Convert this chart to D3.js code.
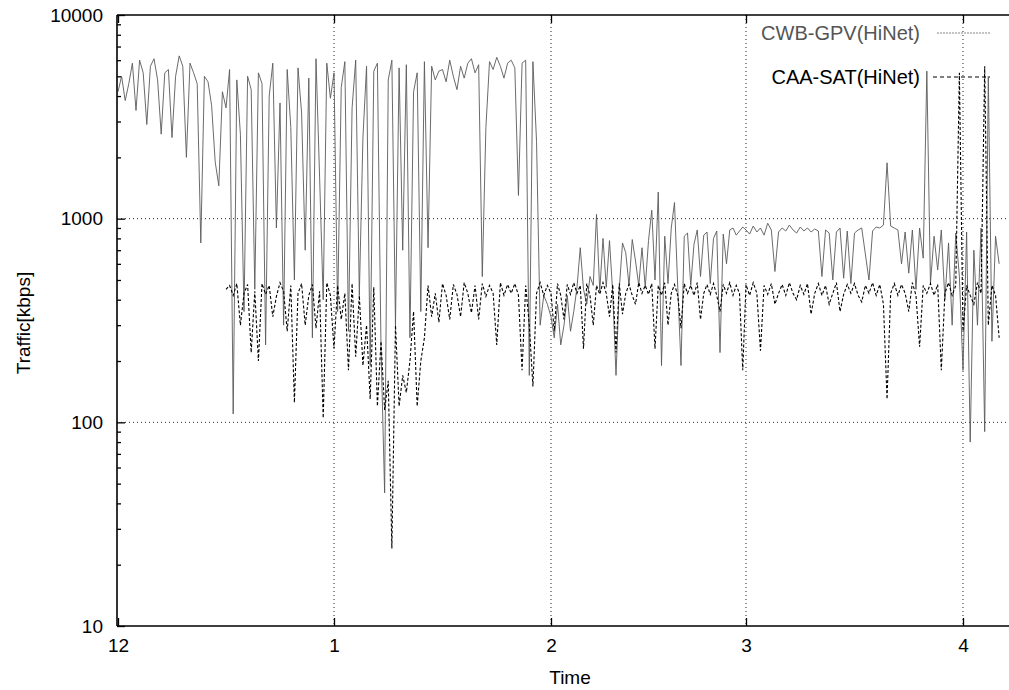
<!DOCTYPE html>
<html><head><meta charset="utf-8">
<script src="https://cdn.jsdelivr.net/npm/d3@7"></script>
<style>body{margin:0;background:#fff}svg{display:block}text{font-family:"Liberation Sans",Arial,sans-serif}</style>
</head><body><svg id="chart" width="1009" height="690"></svg>
<script>
// ---- data ----
const xTickMinutes = [0, 60, 120, 180, 240];
const xTickLabels = ["12", "1", "2", "3", "4"];
const yTickValues = [10, 100, 1000, 10000];
const seriesNames = ["CWB-GPV(HiNet)", "CAA-SAT(HiNet)"];

// one sample per minute after 12:00
const cwbStartMinute = 0;
const cwbValues = [
  4200, 5000, 3800, 4600, 5800, 3400, 6000, 5200, 2900, 5600,
  6100, 4800, 2600, 5200, 5400, 2500, 5000, 6300, 5600, 2000,
  5800, 5200, 4600, 760, 5000, 4700, 3600, 1900, 1450, 4200,
  3500, 5400, 110, 4800, 2600, 350, 5000, 4300, 450, 5200,
  4600, 240, 4000, 5800, 900, 3700, 300, 5400, 2800, 500,
  5500, 3300, 700, 4900, 260, 6100, 1600, 400, 5800, 3900,
  5200, 350, 4400, 5900, 280, 3500, 6000, 420, 2500, 5600,
  190, 5300, 5800, 230, 45, 4800, 6000, 300, 5500, 700,
  5700, 260, 4200, 5200, 350, 5900, 720, 5600, 4800, 5300,
  5400, 4700, 6000, 5000, 4300, 5600, 4900, 5800, 6100, 5200,
  5700, 520, 2800, 5900, 5400, 6200, 5600, 4900, 5800, 6000,
  5500, 1300, 5800, 6000, 170, 5900, 2400, 300, 420, 380,
  330, 260, 380, 240, 300, 420, 280, 350, 460, 720,
  450, 380, 520, 470, 1050, 440, 800, 460, 780, 430,
  170, 450, 760, 680, 470, 790, 620, 470, 720, 460,
  780, 1100, 500, 1350, 190, 820, 480, 900, 1200, 460,
  190, 820, 850, 470, 750, 880, 520, 830, 860, 480,
  800, 870, 220, 840, 600, 880, 900, 830, 870, 910,
  880, 840, 920, 860, 900, 830, 950, 880, 550, 860,
  900, 870, 930, 880, 850, 910, 870, 900, 860, 890,
  870, 520, 880, 850, 500, 860, 900, 510, 870, 480,
  850, 880, 900, 670, 500, 870, 910, 900, 930, 1880,
  920, 900, 880, 600, 860, 540, 880, 450, 900, 640,
  5300, 480, 820, 560, 880, 400, 760, 300, 850, 520,
  180, 860, 80, 700, 300, 900, 90, 5000, 250, 820, 600
];

const caaStartMinute = 30;
const caaValues = [
  450, 470, 420, 480, 300, 430, 475, 220, 440, 200,
  480, 425, 470, 330, 415, 485, 440, 280, 470, 125,
  430, 480, 300, 420, 475, 290, 440, 105, 485, 420,
  230, 470, 320, 430, 180, 480, 210, 420, 190, 300,
  130, 460, 120, 250, 115, 160, 24, 300, 120, 170,
  140, 200, 350, 120, 200, 260, 470, 330, 430, 310,
  480, 420, 320, 475, 425, 330, 485, 430, 345, 470,
  320, 480, 415, 470, 430, 240, 485, 420, 475, 430,
  480, 420, 180, 470, 300, 150, 430, 485, 420, 470,
  430, 280, 480, 420, 320, 475, 425, 485, 430, 470,
  230, 480, 420, 300, 470, 425, 485, 430, 330, 475,
  220, 480, 340, 430, 475, 420, 380, 485, 430, 470,
  425, 480, 230, 470, 420, 485, 300, 430, 475, 420,
  290, 480, 430, 470, 420, 485, 320, 430, 475, 425,
  480, 420, 350, 475, 430, 485, 420, 470, 430, 180,
  475, 420, 485, 430, 225, 470, 425, 480, 380, 430,
  475, 420, 485, 430, 400, 470, 425, 480, 340, 430,
  480, 420, 470, 380, 430, 485, 350, 425, 475, 430,
  480, 420, 390, 470, 430, 485, 420, 475, 380, 130,
  430, 480, 420, 475, 430, 350, 485, 420, 235, 470,
  430, 480, 420, 475, 180, 430, 485, 420, 470, 5200,
  280, 470, 420, 380, 485, 430, 5600, 300, 470, 420, 260
];

// ---- layout ----
const svg = d3.select("#chart");
const L = 117, T = 15, B = 626, R = 1009;

const x = d3.scaleLinear().domain(xTickMinutes).range([118, 334, 551, 746, 963]);
const y = d3.scaleLog().domain([10, 10000]).range([B, T]);

const cwb = cwbValues.map((v, i) => ({ t: cwbStartMinute + i, v }));
const caa = caaValues.map((v, i) => ({ t: caaStartMinute + i, v }));

svg.append("defs").append("clipPath").attr("id", "clip")
  .append("rect").attr("x", L).attr("y", T).attr("width", R - L).attr("height", B - T);

// grid
const grid = svg.append("g").attr("stroke", "#222").attr("stroke-width", 1).attr("stroke-dasharray", "1,3");
grid.selectAll("line.gx").data(xTickMinutes.slice(1)).join("line")
  .attr("x1", d => x(d)).attr("x2", d => x(d)).attr("y1", T).attr("y2", B);
grid.selectAll("line.gy").data([100, 1000]).join("line")
  .attr("x1", L).attr("x2", R).attr("y1", d => y(d)).attr("y2", d => y(d));

// series
const line = d3.line().x(d => x(d.t)).y(d => y(d.v));
const plot = svg.append("g").attr("clip-path", "url(#clip)");
plot.append("path").datum(cwb).attr("d", line)
  .attr("fill", "none").attr("stroke", "#5a5a5a").attr("stroke-width", 0.9);
plot.append("path").datum(caa).attr("d", line)
  .attr("fill", "none").attr("stroke", "#000").attr("stroke-width", 1.1)
  .attr("stroke-dasharray", "3,2");

// axes
const minorTicks = [];
[10, 100, 1000].forEach(d => { for (let k = 2; k <= 9; k++) minorTicks.push(d * k); });

svg.append("g").attr("transform", `translate(${L},0)`)
  .call(d3.axisLeft(y).tickValues(yTickValues).tickFormat(d3.format("d")).tickSize(-8).tickPadding(14));
svg.append("g").attr("transform", `translate(${L},0)`)
  .call(d3.axisLeft(y).tickValues(minorTicks).tickFormat("").tickSize(-4));
svg.append("g").attr("transform", `translate(0,${B})`)
  .call(d3.axisBottom(x).tickValues(xTickMinutes).tickFormat((d, i) => xTickLabels[i]).tickSize(-8).tickPadding(13));
svg.append("g").attr("transform", `translate(0,${T})`)
  .call(d3.axisTop(x).tickValues(xTickMinutes).tickFormat("").tickSize(-8));

svg.selectAll(".domain").remove();
svg.selectAll(".tick line").attr("stroke", "#000").attr("stroke-width", 1.3);
svg.selectAll(".tick text").attr("font-size", 19).attr("fill", "#000")
  .attr("font-family", '"Liberation Sans", Arial, sans-serif');

// frame
const frame = svg.append("g").attr("stroke", "#000").attr("stroke-width", 1.6);
frame.append("line").attr("x1", L).attr("x2", L).attr("y1", T).attr("y2", B);
frame.append("line").attr("x1", L).attr("x2", R).attr("y1", T).attr("y2", T);
frame.append("line").attr("x1", L).attr("x2", R).attr("y1", B).attr("y2", B);

// axis titles
svg.append("text").attr("x", 570).attr("y", 677).attr("text-anchor", "middle")
  .attr("dominant-baseline", "central").attr("font-size", 19).text("Time");
svg.append("text").attr("transform", "translate(23,323) rotate(-90)").attr("text-anchor", "middle")
  .attr("dominant-baseline", "central").attr("font-size", 19).text("Traffic[kbps]");

// legend
const legend = [
  { name: seriesNames[0], y: 33, color: "#888", dash: "2,1", x1: 937, tc: "#555" },
  { name: seriesNames[1], y: 77, color: "#000", dash: "4,3", x1: 933, tc: "#000" }
];
legend.forEach(k => {
  svg.append("text").attr("x", 920).attr("y", k.y).attr("text-anchor", "end")
    .attr("dominant-baseline", "central").attr("font-size", 20).attr("fill", k.tc).text(k.name);
  svg.append("line").attr("x1", k.x1).attr("x2", 990).attr("y1", k.y).attr("y2", k.y)
    .attr("stroke", k.color).attr("stroke-width", 1).attr("stroke-dasharray", k.dash);
});
</script></body></html>
